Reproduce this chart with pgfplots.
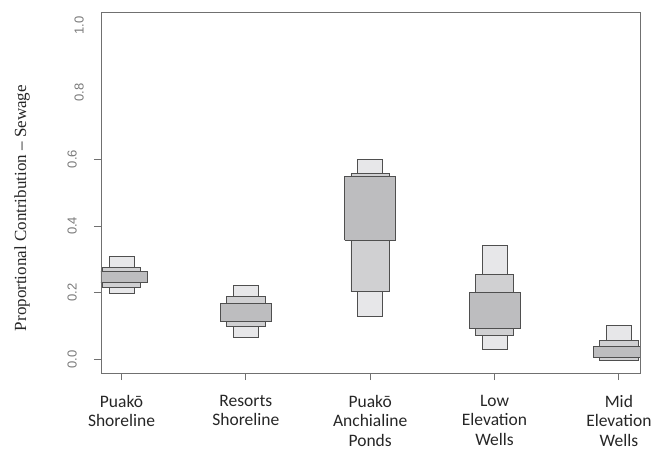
\documentclass[border=0pt]{standalone}
\usepackage{pgfplots}
\pgfplotsset{compat=1.18}
\usepackage{fontspec}
\setmainfont{Carlito}
\newfontfamily\seriffont{Liberation Serif}
\newfontfamily\tickfont{Liberation Sans}
\definecolor{lightc}{HTML}{E7E7E9}
\definecolor{medc}{HTML}{D0D0D2}
\definecolor{darkc}{HTML}{BDBDBF}
\definecolor{edgec}{HTML}{4F4F4F}
\definecolor{framec}{HTML}{707070}
\definecolor{tickc}{HTML}{7A7A7A}
% box(xleft, xright, low, high, colour)
\newcommand{\hdrbox}[5]{\addplot[fill=#5, draw=edgec, line width=0.8pt, line join=miter, mark=none]
  coordinates {(#1,#3) (#2,#3) (#2,#4) (#1,#4) (#1,#3)};}
\begin{document}
\begin{tikzpicture}
\begin{axis}[
  scale only axis,
  width=539pt, height=361pt,
  xmin=0.835, xmax=5.17,
  ymin=-0.04, ymax=1.04,
  axis on top=true,
  axis line style={draw=framec, line width=0.8pt},
  every tick/.style={draw=framec, line width=0.8pt},
  tick align=outside,
  major tick length=7pt,
  xtick pos=bottom, ytick pos=left,
  xtick={1,2,3,4,5},
  xticklabels={Puakō\\Shoreline, Resorts\\Shoreline, Puakō\\Anchialine\\Ponds, Low\\Elevation\\Wells, Mid\\Elevation\\Wells},
  xticklabel style={align=center, anchor=north, inner sep=0pt, yshift=-15pt, font=\fontsize{17.5}{19.5}\selectfont, text=black!85},
  ytick={0,0.2,0.4,0.6},
  yticklabels={0.0,0.2,0.4,0.6},
  extra y ticks={0.8,1.0},
  extra y tick labels={0.8,1.0},
  extra y tick style={major tick length=0pt},
  yticklabel style={xshift=-17pt, rotate=90, anchor=south, inner sep=0pt, font=\tickfont\fontsize{13}{15}\selectfont, text=tickc},
]
% Puako Shoreline
\hdrbox{0.9}{1.1}{0.198}{0.309}{lightc}
\hdrbox{0.845}{1.155}{0.216}{0.276}{medc}
\hdrbox{0.795}{1.205}{0.231}{0.264}{darkc}
% Resorts Shoreline
\hdrbox{1.9}{2.1}{0.066}{0.222}{lightc}
\hdrbox{1.845}{2.155}{0.099}{0.189}{medc}
\hdrbox{1.795}{2.205}{0.114}{0.168}{darkc}
% Puako Anchialine Ponds
\hdrbox{2.9}{3.1}{0.129}{0.600}{lightc}
\hdrbox{2.845}{3.155}{0.204}{0.556}{medc}
\hdrbox{2.795}{3.205}{0.357}{0.547}{darkc}
% Low Elevation Wells
\hdrbox{3.9}{4.1}{0.030}{0.342}{lightc}
\hdrbox{3.845}{4.155}{0.072}{0.255}{medc}
\hdrbox{3.795}{4.205}{0.093}{0.201}{darkc}
% Mid Elevation Wells
\hdrbox{4.9}{5.1}{0.000}{0.102}{lightc}
\hdrbox{4.845}{5.155}{-0.003}{0.057}{medc}
\hdrbox{4.795}{5.205}{0.006}{0.039}{darkc}
\end{axis}
\node[rotate=90, font=\seriffont\fontsize{17}{20}\selectfont, text=black!85] at (-79pt,165pt) {Proportional Contribution – Sewage};
\pgfresetboundingbox
\path[use as bounding box] (-101pt,-77pt) rectangle (554pt,373pt);
\end{tikzpicture}
\end{document}
